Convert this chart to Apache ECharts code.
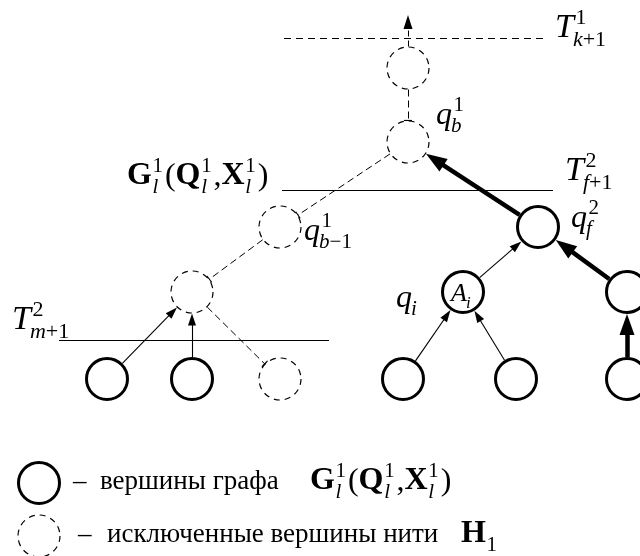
<!DOCTYPE html>
<html>
<head>
<meta charset="utf-8">
<script src="https://cdn.jsdelivr.net/npm/echarts@6/dist/echarts.min.js"></script>
<style>
    html, body { margin: 0; padding: 0; background: #fff; }
    #main { width: 640px; height: 556px; }
</style>
</head>
<body>
<div id="main"></div>
<script>
// вершины: g - вершина графа, h - исключенная вершина нити, p - просто точка
var nodeNames = ['top', 't0', 'qb', 'qb1', 'd1', 'b1', 'b2', 'b3', 'b4', 'b5', 'b6', 'ai', 'qf', 'r1', 'leg1', 'leg2'];
var nodeX     = [408,   408,  408,  280,   192,  107,  192,  280,  403,  516,  627,  463,  538,  627,  39,     39];
var nodeY     = [15,    68,   142,  227,   292,  379,  379,  379,  379,  379,  379,  292,  227,  292,  483,    536];
var nodeKind  = ['p',   'h',  'h',  'h',   'h',  'g',  'g',  'h',  'g',  'g',  'g',  'g',  'g',  'g',  'g',    'h'];

// дуги (стрелка / засечка на конце "to")
var edgeFrom = ['b1', 'b2', 'b4', 'b5', 'ai', 'b6', 'r1', 'qf', 't0', 'qb', 'qb1', 'd1', 't0'];
var edgeTo   = ['d1', 'd1', 'ai', 'ai', 'qf', 'r1', 'qf', 'qb', 'qb', 'qb1', 'd1', 'b3', 'top'];
var edgeKind = ['thin', 'thin', 'thin', 'thin', 'thin', 'thick', 'thick', 'thick', 'dash', 'dash', 'dash', 'dash', 'dashArrow'];

// уровни T
var levelY    = [38, 190, 340];
var levelFrom = [284, 282, 59];
var levelTo   = [543, 553, 329];
var levelKind = ['dash', 'solid', 'solid'];

// подписи: [x, базовая линия, кегль, [[основа, стиль, верхний индекс, нижний индекс], ...]]
var gTokens = [['G', 'b', '1', 'l'], ['(', 'n'], ['Q', 'b', '1', 'l'], [',', 'n'], ['X', 'b', '1', 'l'], [')', 'n']];
var formulas = [
    [555, 40, 34, [['T', 'i', '1', 'k+1']]],
    [436, 126, 32, [['q', 'i', '1', 'b']]],
    [127, 187, 32, gTokens],
    [565, 183, 34, [['T', 'i', '2', 'f+1']]],
    [304, 242, 32, [['q', 'i', '1', 'b\u22121']]],
    [571, 229, 32, [['q', 'i', '2', 'f']]],
    [12, 332, 34, [['T', 'i', '2', 'm+1']]],
    [396, 309, 32, [['q', 'i', '', 'i']]],
    [451, 303, 26, [['A', 'i', '', 'i']]],
    [73, 491, 27, [['\u2013', 'n']]],
    [100, 491, 27, [['вершины графа', 'n']]],
    [310, 492, 32, gTokens],
    [78, 544, 27, [['\u2013', 'n']]],
    [107, 544, 27, [['исключенные вершины нити', 'n']]],
    [461, 545, 32, [['H', 'b', '', '1']]]
];

(function(){
    var FONT = '"Liberation Serif", "Times New Roman", serif';
    var ctx = document.createElement('canvas').getContext('2d');

    function fontOf(st, size){
        return (st === 'i' ? 'italic ' : '') + (st === 'b' ? 'bold ' : '') + size + 'px ' + FONT;
    }
    function textW(t, st, size){
        ctx.font = fontOf(st, size);
        return ctx.measureText(t).width;
    }

    // размеры вершин
    var nodeStyle = {
        g: {size: 41, r: 22, item: {color: '#fff', borderColor: '#000', borderWidth: 3, opacity: 1}},
        h: {size: 42, r: 21.5, item: {color: '#fff', borderColor: '#000', borderWidth: 1.2, borderType: [6, 5], opacity: 1}},
        p: {size: 0, r: 0, item: {color: 'transparent'}}
    };
    var edgeStyle = {
        thin: {line: {color: '#000', width: 1.1, opacity: 1}, symbol: 'triangle', sym: [8, 12], cut: 6},
        thick: {line: {color: '#000', width: 4.5, opacity: 1}, symbol: 'triangle', sym: [15, 21], cut: 10.5},
        dash: {line: {color: '#000', width: 1, type: [7, 4], opacity: 1}, symbol: 'rect', sym: [8, 1.2], cut: 0},
        dashArrow: {line: {color: '#000', width: 1, type: [6, 4], opacity: 1}, symbol: 'triangle', sym: [9, 14], cut: 7}
    };

    var idx = {};
    nodeNames.forEach(function(n, i){ idx[n] = i; });

    var nodeData = nodeNames.map(function(n, i){
        var s = nodeStyle[nodeKind[i]];
        return {value: [nodeX[i], nodeY[i]], symbolSize: s.size, itemStyle: s.item};
    });

    // дуги обрезаются по границам окружностей
    var edgeData = edgeFrom.map(function(f, i){
        var a = idx[f], b = idx[edgeTo[i]];
        var es = edgeStyle[edgeKind[i]];
        var dx = nodeX[b] - nodeX[a], dy = nodeY[b] - nodeY[a];
        var len = Math.sqrt(dx * dx + dy * dy);
        var ux = dx / len, uy = dy / len;
        var ra = nodeStyle[nodeKind[a]].r;
        var rb = nodeStyle[nodeKind[b]].r + es.cut;
        return {
            coords: [[nodeX[a] + ux * ra, nodeY[a] + uy * ra], [nodeX[b] - ux * rb, nodeY[b] - uy * rb]],
            lineStyle: es.line,
            symbol: ['none', es.symbol],
            symbolSize: [0, es.sym]
        };
    });

    var levelData = levelY.map(function(y, i){
        return {
            coords: [[levelFrom[i], y], [levelTo[i], y]],
            lineStyle: levelKind[i] === 'dash' ? {color: '#000', width: 1, type: [7, 5], opacity: 1} : {color: '#000', width: 1, opacity: 1}
        };
    });

    // раскладка формул на куски текста
    var pieces = [];
    function put(t, x, bl, size, st){
        pieces.push({
            value: [x, bl - size * 0.34],
            label: {formatter: t, fontSize: size, fontStyle: st === 'i' ? 'italic' : 'normal', fontWeight: st === 'b' ? 'bold' : 'normal'}
        });
    }
    function putScript(s, x, bl, size){
        var runs = [];
        for(var i = 0; i < s.length; i++){
            var c = s.charAt(i);
            var st = /[a-z]/i.test(c) ? 'i' : 'n';
            if(runs.length && runs[runs.length - 1][1] === st){
                runs[runs.length - 1][0] += c;
            }else{
                runs.push([c, st]);
            }
        }
        var x0 = x;
        runs.forEach(function(r){
            put(r[0], x, bl, size, r[1]);
            x += textW(r[0], r[1], size);
        });
        return x - x0;
    }
    formulas.forEach(function(f){
        var x = f[0], bl = f[1], size = f[2];
        f[3].forEach(function(tok){
            var st = tok[1];
            put(tok[0], x, bl, size, st);
            x += textW(tok[0], st, size);
            var ss = Math.round(size * 0.66);
            var w = 0;
            if(tok[2]){
                w = Math.max(w, putScript(tok[2], x + (st === 'i' ? size * 0.05 : size * 0.02), bl - size * 0.42, ss) + size * 0.05);
            }
            if(tok[3]){
                w = Math.max(w, putScript(tok[3], x + (st === 'i' ? -size * 0.03 : size * 0.02), bl + size * 0.24, ss));
            }
            x += w + (w ? size * 0.03 : 0);
        });
    });

    var chart = echarts.init(document.getElementById('main'), null, {renderer: 'canvas'});
    chart.setOption({
        animation: false,
        backgroundColor: '#fff',
        grid: {left: 0, right: 0, top: 0, bottom: 0},
        xAxis: {type: 'value', min: 0, max: 640, show: false},
        yAxis: {type: 'value', min: 0, max: 556, inverse: true, show: false},
        series: [
            {
                type: 'lines',
                coordinateSystem: 'cartesian2d',
                z: 2,
                symbol: 'none',
                lineStyle: {color: '#000', opacity: 1},
                data: levelData
            },
            {
                type: 'lines',
                coordinateSystem: 'cartesian2d',
                z: 3,
                lineStyle: {color: '#000', opacity: 1},
                data: edgeData
            },
            {
                type: 'scatter',
                z: 4,
                symbol: 'circle',
                silent: true,
                itemStyle: {opacity: 1},
                data: nodeData
            },
            {
                type: 'scatter',
                z: 5,
                symbolSize: 0,
                silent: true,
                itemStyle: {opacity: 1, color: 'transparent'},
                label: {
                    show: true,
                    position: [0, 0],
                    align: 'left',
                    verticalAlign: 'middle',
                    color: '#000',
                    opacity: 1,
                    fontFamily: FONT
                },
                data: pieces
            }
        ]
    });
})();
</script>
</body>
</html>
